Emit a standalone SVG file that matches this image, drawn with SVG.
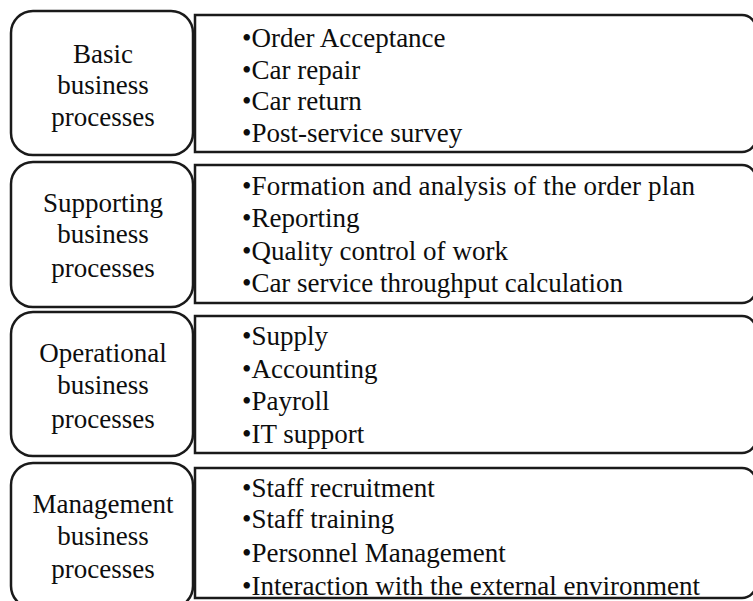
<svg xmlns="http://www.w3.org/2000/svg" width="753" height="601" viewBox="0 0 753 601">
<style>
.lb{fill:#fff;stroke:#1a1a1a;stroke-width:2.5}
.rb{fill:#fff;stroke:#1a1a1a;stroke-width:2.5}
text{font-family:'Liberation Serif','Times New Roman',serif;font-size:27px;fill:#0d0d0d}
.c{text-anchor:middle}
</style>
<rect width="753" height="601" fill="#fff"/>
<g id="connectors"></g>
<g id="basic">
<rect class="lb" x="11" y="11" width="182" height="144" rx="22"/>
<text class="c" x="103" y="63">Basic</text>
<text class="c" x="103" y="94">business</text>
<text class="c" x="103" y="126">processes</text>
</g>
<g id="basic-list">
<path class="rb" d="M195,15 H742 A14,14 0 0 1 756,29 V138 A14,14 0 0 1 742,152 H195 Z"/>
<text x="242" y="47">•Order Acceptance</text>
<text x="242" y="79">•Car repair</text>
<text x="242" y="110">•Car return</text>
<text x="242" y="142">•Post-service survey</text>
</g>
<g id="supporting">
<rect class="lb" x="11" y="162" width="182" height="145" rx="22"/>
<text class="c" x="103" y="212">Supporting</text>
<text class="c" x="103" y="243">business</text>
<text class="c" x="103" y="277">processes</text>
</g>
<g id="supporting-list">
<path class="rb" d="M195,165 H742 A14,14 0 0 1 756,179 V289 A14,14 0 0 1 742,303 H195 Z"/>
<text x="242" y="195" textLength="453" lengthAdjust="spacing">•Formation and analysis of the order plan</text>
<text x="242" y="227">•Reporting</text>
<text x="242" y="260" textLength="266" lengthAdjust="spacing">•Quality control of work</text>
<text x="242" y="292" textLength="381" lengthAdjust="spacing">•Car service throughput calculation</text>
</g>
<g id="operational">
<rect class="lb" x="11" y="312" width="182" height="144" rx="22"/>
<text class="c" x="103" y="362">Operational</text>
<text class="c" x="103" y="394">business</text>
<text class="c" x="103" y="428">processes</text>
</g>
<g id="operational-list">
<path class="rb" d="M195,316 H742 A14,14 0 0 1 756,330 V439 A14,14 0 0 1 742,453 H195 Z"/>
<text x="242" y="345">•Supply</text>
<text x="242" y="378">•Accounting</text>
<text x="242" y="410">•Payroll</text>
<text x="242" y="443">•IT support</text>
</g>
<g id="management">
<rect class="lb" x="11" y="463" width="182" height="145" rx="22"/>
<text class="c" x="103" y="513">Management</text>
<text class="c" x="103" y="545">business</text>
<text class="c" x="103" y="578">processes</text>
</g>
<g id="management-list">
<path class="rb" d="M195,468 H742 A14,14 0 0 1 756,482 V584 A14,14 0 0 1 742,598 H195 Z"/>
<text x="242" y="497">•Staff recruitment</text>
<text x="242" y="528">•Staff training</text>
<text x="242" y="562">•Personnel Management</text>
<text x="242" y="595" textLength="458" lengthAdjust="spacing">•Interaction with the external environment</text>
</g>
</svg>
